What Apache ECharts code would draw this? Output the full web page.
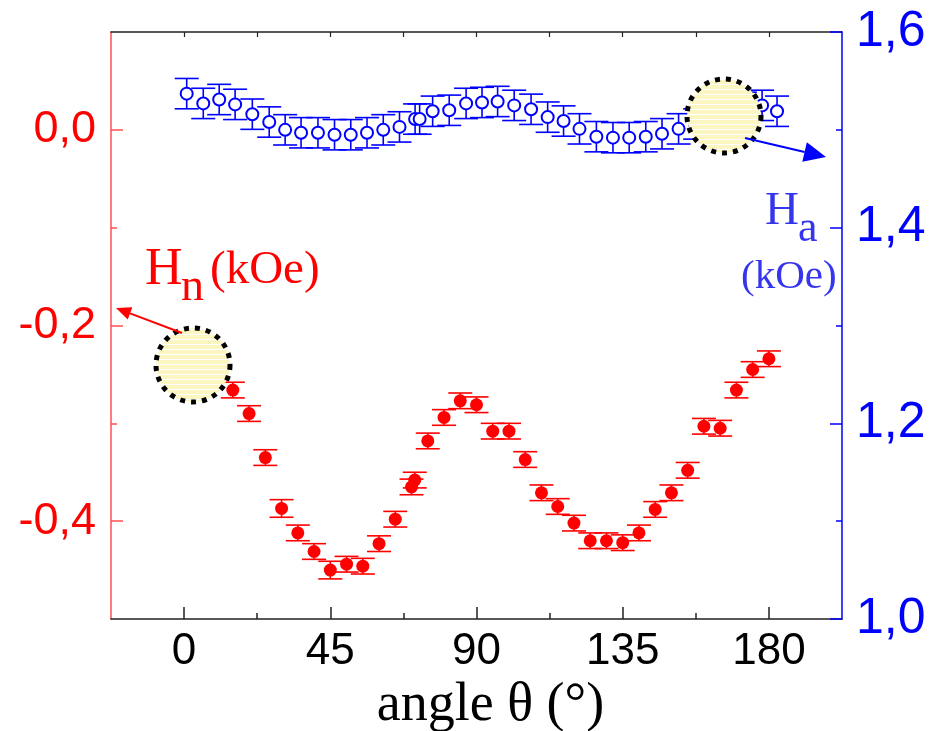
<!DOCTYPE html>
<html>
<head>
<meta charset="utf-8">
<script src="https://cdn.jsdelivr.net/npm/echarts@6/dist/echarts.min.js"></script>
<style>html,body{margin:0;padding:0;background:#fff;}#chart{width:939px;height:731px;}</style>
</head>
<body>
<div id="chart"></div>
<script>
// ---- data ----
const xTicks = [0, 45, 90, 135, 180];
const xMinorTicks = [22.5, 67.5, 112.5, 157.5];
const leftTicks = [0, -0.2, -0.4];
const leftMinorTicks = [-0.1, -0.3];
const rightTicks = [1.0, 1.2, 1.4, 1.6];
const rightMinorTicks = [1.1, 1.3, 1.5];

// H_n (left axis, red filled)
const redAngles = [0,5,10,15,20,25,30,35,40,45,50,55,60,65,70,71,75,80,85,90,95,100,105,110,115,120,125,130,135,140,145,150,155,160,165,170,175,180];
const redValues = [-0.239,-0.243,-0.248,-0.266,-0.290,-0.335,-0.387,-0.412,-0.431,-0.450,-0.444,-0.446,-0.423,-0.398,-0.365,-0.358,-0.318,-0.294,-0.277,-0.281,-0.308,-0.308,-0.337,-0.371,-0.385,-0.402,-0.420,-0.420,-0.422,-0.412,-0.388,-0.371,-0.348,-0.303,-0.305,-0.266,-0.245,-0.234];
const redErrors = [0.008,0.008,0.008,0.008,0.008,0.008,0.009,0.008,0.008,0.009,0.008,0.008,0.008,0.008,0.008,0.008,0.008,0.008,0.008,0.008,0.008,0.008,0.008,0.008,0.008,0.008,0.008,0.008,0.008,0.008,0.008,0.008,0.008,0.008,0.008,0.008,0.008,0.008];

// H_a (right axis, blue open)
const blueAngles = [0.8,5.9,10.8,15.7,21.0,26.2,31.1,36.0,41.2,46.3,51.3,56.3,61.3,66.3,71.1,72.5,76.5,81.6,86.8,91.7,96.5,101.6,106.8,111.9,116.8,121.7,126.9,132.0,137.0,142.1,147.1,152.2,157.3,162.4,167.5,172.6,177.9,182.5];
const blueValues = [1.537,1.527,1.531,1.526,1.516,1.508,1.500,1.497,1.497,1.495,1.495,1.497,1.500,1.503,1.511,1.511,1.519,1.520,1.527,1.528,1.529,1.525,1.521,1.513,1.509,1.501,1.493,1.492,1.492,1.493,1.496,1.501,1.506,1.512,1.518,1.523,1.525,1.519];
const blueErrors = [0.0155,0.0155,0.0155,0.0155,0.0155,0.0155,0.0155,0.0155,0.0155,0.0155,0.0155,0.0155,0.0155,0.0155,0.0155,0.0155,0.0155,0.0155,0.0155,0.0155,0.0155,0.0155,0.0155,0.0155,0.0155,0.0155,0.0155,0.0155,0.0155,0.0155,0.0155,0.0155,0.0155,0.0155,0.0155,0.0155,0.0155,0.0155];

// ---- build ----
const RED = '#ff0000';
const BLUE = '#0000ff';
const SANS = 'Liberation Sans, Arial, sans-serif';
const SERIF = 'Liberation Serif, Times New Roman, serif';

const redPts = redAngles.map((a, i) => [a, redValues[i], redErrors[i]]);
const bluePts = blueAngles.map((a, i) => [a, blueValues[i], blueErrors[i]]);

function errorBars(color) {
  return function (params, api) {
    const x = api.value(0), y = api.value(1), e = api.value(2);
    const hi = api.coord([x, y + e]);
    const lo = api.coord([x, y - e]);
    const half = 12;
    const st = { stroke: color, lineWidth: 1.6 };
    return {
      type: 'group',
      children: [
        { type: 'line', shape: { x1: hi[0], y1: hi[1], x2: lo[0], y2: lo[1] }, style: st },
        { type: 'line', shape: { x1: hi[0] - half, y1: hi[1], x2: hi[0] + half, y2: hi[1] }, style: st },
        { type: 'line', shape: { x1: lo[0] - half, y1: lo[1], x2: lo[0] + half, y2: lo[1] }, style: st }
      ]
    };
  };
}

const fmt = v => (Math.abs(v) < 1e-9 ? 0 : v).toFixed(1).replace('.', ',');

function xAxisBase(extra) {
  return Object.assign({
    type: 'value', min: -22.5, max: 202.5, gridIndex: 0,
    splitLine: { show: false }
  }, extra);
}
function yAxisBase(extra) {
  return Object.assign({ type: 'value', splitLine: { show: false } }, extra);
}

function arrow(x1, y1, x2, y2, color, headLen, headHalf, lw) {
  const dx = x2 - x1, dy = y2 - y1;
  const L = Math.sqrt(dx * dx + dy * dy);
  const ux = dx / L, uy = dy / L;
  const bx = x2 - ux * headLen, by = y2 - uy * headLen;
  const px = -uy * headHalf, py = ux * headHalf;
  return [
    { type: 'line', z: 110, shape: { x1: x1, y1: y1, x2: bx, y2: by }, style: { stroke: color, lineWidth: lw } },
    { type: 'polygon', z: 110, shape: { points: [[x2, y2], [bx + px, by + py], [bx - px, by - py]] }, style: { fill: color } }
  ];
}

// striped light-yellow fill for the highlight circles
const stripe = document.createElement('canvas');
stripe.width = 4; stripe.height = 5;
(function () {
  const c = stripe.getContext('2d');
  c.fillStyle = '#fbf6c2'; c.fillRect(0, 0, 4, 5);
  c.fillStyle = '#ffffff'; c.fillRect(0, 4, 4, 1);
})();
const circleStyle = { fill: { image: stripe, repeat: 'repeat' }, stroke: '#000', lineWidth: 5, lineDash: [5, 6] };

const chart = echarts.init(document.getElementById('chart'), null, { renderer: 'canvas' });
chart.setOption({
  animation: false,
  backgroundColor: '#fff',
  grid: { left: 111, right: 97, top: 32, bottom: 112, containLabel: false, outerBoundsMode: 'none' },
  xAxis: [
    xAxisBase({
      position: 'bottom',
      axisLine: { show: true, onZero: false, lineStyle: { color: '#222', width: 1.5 } },
      axisTick: { show: true, inside: true, length: 12, customValues: xTicks, lineStyle: { color: '#222', width: 1.5 } },
      axisLabel: { show: true, customValues: xTicks, color: '#000', fontSize: 44, fontFamily: SANS, margin: 11 },
      name: 'angle θ (°)', nameLocation: 'middle', nameGap: 60,
      nameTextStyle: { fontSize: 54, fontFamily: SERIF, color: '#000', padding: [0, 0, 0, 28] }
    }),
    xAxisBase({
      position: 'bottom',
      axisLine: { show: false, onZero: false },
      axisTick: { show: true, inside: true, length: 6, customValues: xMinorTicks, lineStyle: { color: '#222', width: 1.5 } },
      axisLabel: { show: false }
    }),
    xAxisBase({
      position: 'top',
      axisLine: { show: true, onZero: false, lineStyle: { color: '#222', width: 1.5 } },
      axisTick: { show: true, inside: true, length: 5, customValues: xTicks.concat(xMinorTicks), lineStyle: { color: '#222', width: 1.2 } },
      axisLabel: { show: false }
    })
  ],
  yAxis: [
    yAxisBase({
      position: 'left', min: -0.5, max: 0.1,
      axisLine: { show: true, onZero: false, lineStyle: { color: '#ff5050', width: 1.5 } },
      axisTick: { show: true, inside: true, length: 12, customValues: leftTicks, lineStyle: { color: '#ff5050', width: 1.5 } },
      axisLabel: { show: true, customValues: leftTicks, formatter: fmt, color: RED, fontSize: 45, fontFamily: SANS, margin: 15 }
    }),
    yAxisBase({
      position: 'right', min: 1.0, max: 1.6,
      axisLine: { show: true, onZero: false, lineStyle: { color: BLUE, width: 1.5 } },
      axisTick: { show: true, inside: true, length: 12, customValues: rightTicks, lineStyle: { color: BLUE, width: 1.5 } },
      axisLabel: { show: true, customValues: rightTicks, formatter: fmt, color: BLUE, fontSize: 50, fontFamily: SANS, margin: 14 }
    }),
    yAxisBase({
      position: 'left', min: -0.5, max: 0.1,
      axisLine: { show: false, onZero: false },
      axisTick: { show: true, inside: true, length: 6, customValues: leftMinorTicks, lineStyle: { color: '#ff5050', width: 1.5 } },
      axisLabel: { show: false }
    }),
    yAxisBase({
      position: 'right', min: 1.0, max: 1.6,
      axisLine: { show: false, onZero: false },
      axisTick: { show: true, inside: true, length: 6, customValues: rightMinorTicks, lineStyle: { color: BLUE, width: 1.5 } },
      axisLabel: { show: false }
    })
  ],
  series: [
    {
      type: 'custom', name: 'Hn err', xAxisIndex: 0, yAxisIndex: 0, z: 3,
      data: redPts, encode: { x: 0, y: 1 }, renderItem: errorBars(RED), silent: true
    },
    {
      type: 'scatter', name: 'Hn', xAxisIndex: 0, yAxisIndex: 0, z: 4,
      data: redPts.map(p => [p[0], p[1]]), symbol: 'circle', symbolSize: 13,
      itemStyle: { color: RED, opacity: 1 }
    },
    {
      type: 'custom', name: 'Ha err', xAxisIndex: 0, yAxisIndex: 1, z: 3,
      data: bluePts, encode: { x: 0, y: 1 }, renderItem: errorBars(BLUE), silent: true
    },
    {
      type: 'scatter', name: 'Ha', xAxisIndex: 0, yAxisIndex: 1, z: 4,
      data: bluePts.map(p => [p[0], p[1]]), symbol: 'circle', symbolSize: 12,
      itemStyle: { color: '#fff', borderColor: BLUE, borderWidth: 2, opacity: 1 }
    }
  ],
  graphic: [
    { type: 'circle', z: 100, shape: { cx: 193, cy: 365, r: 37 }, style: circleStyle },
    { type: 'circle', z: 100, shape: { cx: 724, cy: 116, r: 37 }, style: circleStyle },
    ...arrow(182, 333, 116, 308, RED, 15, 6.5, 2),
    ...arrow(745, 138, 826, 157, BLUE, 22, 10, 2.2),
    { type: 'text', z: 120, x: 145, y: 270, style: { text: 'H', fontSize: 52, fontFamily: SERIF, fill: RED, verticalAlign: 'middle' } },
    { type: 'text', z: 120, x: 181, y: 288, style: { text: 'n', fontSize: 46, fontFamily: SERIF, fill: RED, verticalAlign: 'middle' } },
    { type: 'text', z: 120, x: 210, y: 271, style: { text: '(kOe)', fontSize: 47, fontFamily: SERIF, fill: RED, verticalAlign: 'middle' } },
    { type: 'text', z: 120, x: 765, y: 212, style: { text: 'H', fontSize: 47, fontFamily: SERIF, fill: '#3535ee', verticalAlign: 'middle' } },
    { type: 'text', z: 120, x: 798, y: 229, style: { text: 'a', fontSize: 44, fontFamily: SERIF, fill: '#3535ee', verticalAlign: 'middle' } },
    { type: 'text', z: 120, x: 741, y: 277, style: { text: '(kOe)', fontSize: 41, fontFamily: SERIF, fill: '#3535ee', verticalAlign: 'middle' } }
  ]
});
</script>
</body>
</html>
